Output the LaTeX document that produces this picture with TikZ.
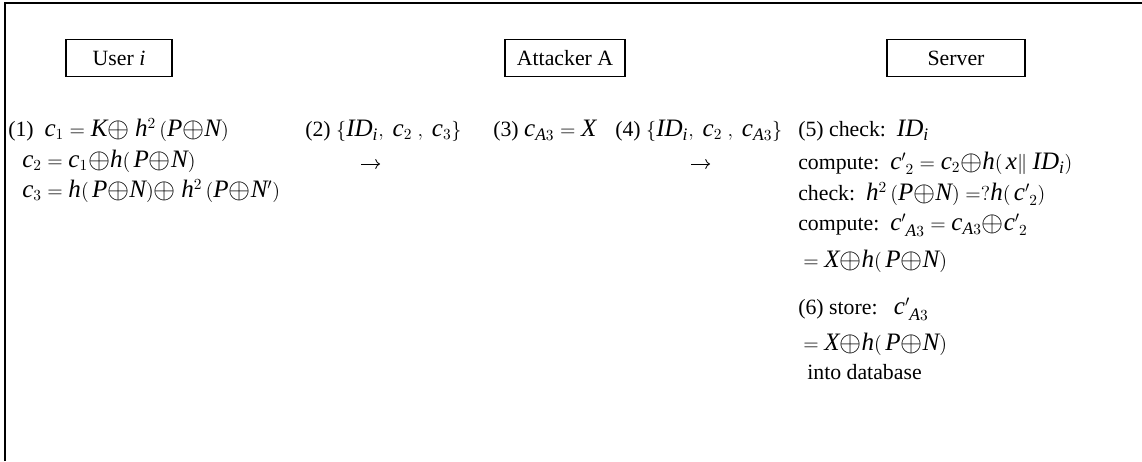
\documentclass[tikz,border=0pt]{standalone}
\usepackage{fontspec}
\setmainfont{Liberation Serif}
\newfontfamily\tmsmath[NFSSFamily=tmsm,Scale=1.15]{Liberation Serif}
\usetikzlibrary{arrows.meta,positioning}
% Times-like letters and digits in math
\DeclareSymbolFont{tmsit}{TU}{tmsm}{m}{it}
\DeclareSymbolFont{tmsrm}{TU}{tmsm}{m}{n}
\count255=`a
\loop \Umathcode\count255="7 \symtmsit \count255
  \ifnum\count255<`z \advance\count255 1 \repeat
\count255=`A
\loop \Umathcode\count255="7 \symtmsit \count255
  \ifnum\count255<`Z \advance\count255 1 \repeat
\count255=`0
\loop \Umathcode\count255="0 \symtmsrm \count255
  \ifnum\count255<`9 \advance\count255 1 \repeat
\Umathcode`(="4 \symtmsrm `(
\Umathcode`)="5 \symtmsrm `)
\newcommand{\xo}{\mathord{\raisebox{-0.15ex}{\scalebox{1.4}{$\oplus$}}}}

\begin{document}
\begin{tikzpicture}[x=0.025cm,y=-0.025cm,font=\fontsize{15.5}{18}\selectfont,
        party/.style={draw,thick,minimum height=9.2mm,inner sep=1mm},
        ln/.style={anchor=base west,inner sep=0pt},
        a/.style={-{To[length=1.2mm]},semithick}]
        \useasboundingbox (0,0) rectangle (1142,461);
        \draw[thick] (5,461) -- (5,3) -- (1142,3);
        % the three parties
        \node[party,minimum width=26.5mm] (user) at (119,58) {User \textit{i}};
        \node[party,minimum width=30mm] (att) at (565,58) {Attacker A};
        \node[party,minimum width=34.5mm] (srv) at (956,58) {Server};
        % user side
        \node[ln] (u1) at (8,136) {(1)\ \ $c_1 = K\xo\ h^2\,(P\xo N)$};
        \node[ln] (u2) at (22,167) {$c_2 = c_1\xo h(\,P\xo N)$};
        \node[ln] (u3) at (22,197) {$c_3 = h(\,P\xo N)\xo\ h^2\,(P\xo N')$};
        % messages and attacker
        \node[ln] (m2) at (305,136) {(2) $\{ID_i,\ c_2\ ,\ c_3\}$};
        \node[ln] (m3) at (493,136) {(3)\ $c_{A3} = X$};
        \node[ln] (m4) at (615,136) {(4) $\{ID_i,\ c_2\ ,\ c_{A3}\}$};
        \coordinate (a2s) at (361,164); \coordinate (a2e) at (380,164);
        \coordinate (a4s) at (691,164); \coordinate (a4e) at (710,164);
        \draw[a] (a2s) -- (a2e);
        \draw[a] (a4s) -- (a4e);
        % server side
        \node[ln] (s1) at (798,136) {(5)\ check:\ \ $ID_i$};
        \node[ln] (s2) at (798,169) {compute:\ \ $c'_{\;2} = c_2\xo h(\,x\|\ ID_i)$};
        \node[ln] (s3) at (798,200) {check:\ \ $h^2\,(P\xo N) = ?h(\,c'_{\;2})$};
        \node[ln] (s4) at (798,230) {compute:\ \ $c'_{\;A3} = c_{A3}\xo c'_{\;2}$};
        \node[ln] (s5) at (803,267) {$= X\xo h(\,P\xo N)$};
        \node[ln] (s6) at (798,314) {(6)\ store:\ \ \ $c'_{\;A3}$};
        \node[ln] (s7) at (803,350) {$= X\xo h(\,P\xo N)$};
        \node[ln] (s8) at (807,379) {into\ database};
\end{tikzpicture}
\end{document}
